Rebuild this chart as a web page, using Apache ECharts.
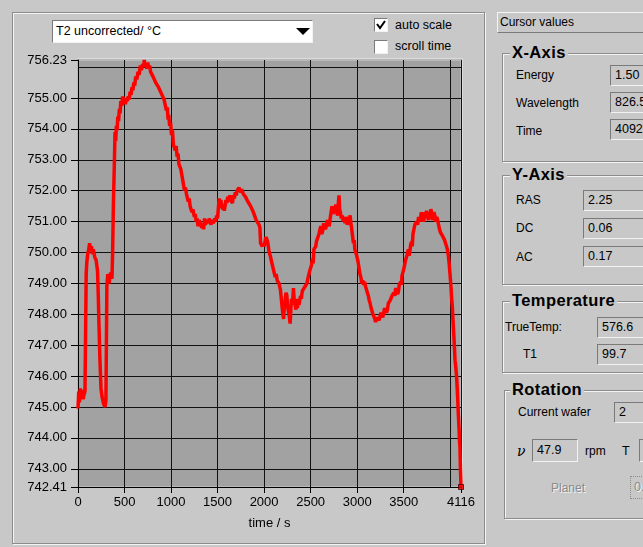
<!DOCTYPE html>
<html>
<head>
<meta charset="utf-8">
<script src="https://cdn.jsdelivr.net/npm/echarts@6/dist/echarts.min.js"></script>
<style>
  html, body { margin:0; padding:0; }
  body { width:643px; height:547px; overflow:hidden; background:#c8c8c8; position:relative;
         font-family:"Liberation Sans", Arial, sans-serif; color:#000; }
  .abs { position:absolute; }
  .groove { position:absolute; border:1px solid #8c8c8c; box-shadow: inset 1px 1px 0 #f4f4f4, 1px 1px 0 #f4f4f4; }
  .sunken { position:absolute; border-top:1px solid #7a7a7a; border-left:1px solid #7a7a7a;
            border-bottom:1px solid #f2f2f2; border-right:1px solid #f2f2f2; box-sizing:border-box;
            font-size:12.5px; line-height:19px; padding-left:4px; white-space:nowrap; overflow:hidden; }
  .lbl { position:absolute; font-size:12px; white-space:nowrap; transform:translateY(-50%); }
  .gtitle { position:absolute; font-size:16.5px; font-weight:bold; background:#c8c8c8; padding:0 2px;
            transform:translateY(-55%); letter-spacing:0.4px; white-space:nowrap; }
  #chart { position:absolute; left:0; top:0; width:643px; height:547px; z-index:2; }
</style>
</head>
<body>
<!-- left frame -->
<div class="groove" style="left:12px;top:12px;width:471px;height:530px;"></div>
<!-- plot underlay (extra border) -->
<div class="abs" style="left:77px;top:58px;width:385px;height:428px;background:#a2a2a2;border-top:1px solid #dcdcdc;border-right:1px solid #dcdcdc;"></div>

<!-- dropdown -->
<div class="sunken" style="left:52px;top:20px;width:261px;height:23px;background:#fff;font-size:12.5px;line-height:21px;padding-left:3px;">T2 uncorrected/ °C</div>
<div class="abs" style="left:296px;top:28px;width:0;height:0;border-left:7px solid transparent;border-right:7px solid transparent;border-top:7px solid #000;"></div>

<!-- checkboxes -->
<div class="sunken" style="left:374px;top:18px;width:14px;height:14px;background:#fff;padding:0;">
  <svg width="12" height="12" style="position:absolute;left:0;top:0"><polyline points="2,5 5,9 10,2" fill="none" stroke="#000" stroke-width="2"/></svg>
</div>
<div class="lbl" style="left:395px;top:25px;font-size:12.5px;">auto scale</div>
<div class="sunken" style="left:374px;top:40px;width:14px;height:14px;background:#fff;padding:0;"></div>
<div class="lbl" style="left:395px;top:46px;font-size:12.5px;">scroll time</div>

<!-- right panel -->
<div class="abs" style="left:497px;top:12px;width:200px;height:21px;box-sizing:border-box;border-top:1px solid #f4f4f4;border-left:1px solid #f4f4f4;border-bottom:1px solid #7a7a7a;border-right:1px solid #7a7a7a;font-size:12px;line-height:19px;padding-left:2px;">Cursor values</div>

<div class="groove" style="left:502px;top:53px;width:200px;height:107px;"></div>
<div class="gtitle" style="left:510px;top:53px;">X-Axis</div>
<div class="lbl" style="left:516px;top:75px;">Energy</div>
<div class="sunken" style="left:610px;top:65px;width:60px;height:21px;">1.50</div>
<div class="lbl" style="left:516px;top:103px;">Wavelength</div>
<div class="sunken" style="left:610px;top:92px;width:60px;height:21px;">826.5</div>
<div class="lbl" style="left:516px;top:131px;">Time</div>
<div class="sunken" style="left:610px;top:119px;width:60px;height:21px;">4092</div>

<div class="groove" style="left:502px;top:175px;width:200px;height:108px;"></div>
<div class="gtitle" style="left:510px;top:175px;">Y-Axis</div>
<div class="lbl" style="left:516px;top:200px;">RAS</div>
<div class="sunken" style="left:583px;top:190px;width:70px;height:21px;">2.25</div>
<div class="lbl" style="left:516px;top:228px;">DC</div>
<div class="sunken" style="left:583px;top:218px;width:70px;height:21px;">0.06</div>
<div class="lbl" style="left:516px;top:257px;">AC</div>
<div class="sunken" style="left:583px;top:246px;width:70px;height:21px;">0.17</div>

<div class="groove" style="left:502px;top:301px;width:200px;height:70px;"></div>
<div class="gtitle" style="left:510px;top:301px;">Temperature</div>
<div class="lbl" style="left:505px;top:327px;">TrueTemp:</div>
<div class="sunken" style="left:597px;top:317px;width:60px;height:21px;">576.6</div>
<div class="lbl" style="left:523px;top:354px;">T1</div>
<div class="sunken" style="left:597px;top:344px;width:60px;height:21px;">99.7</div>

<div class="groove" style="left:504px;top:390px;width:200px;height:127px;"></div>
<div class="gtitle" style="left:510px;top:390px;">Rotation</div>
<div class="lbl" style="left:518px;top:412px;">Current wafer</div>
<div class="sunken" style="left:614px;top:402px;width:60px;height:21px;">2</div>
<div class="lbl" style="left:517px;top:451px;font-family:'DejaVu Serif',serif;font-style:italic;font-size:14px;">ν</div>
<div class="sunken" style="left:532px;top:439px;width:46px;height:23px;line-height:21px;">47.9</div>
<div class="lbl" style="left:585px;top:451px;">rpm</div>
<div class="lbl" style="left:622px;top:451px;font-size:12.5px;">T</div>
<div class="sunken" style="left:639px;top:439px;width:40px;height:23px;"></div>
<div class="lbl" style="left:551px;top:488px;color:#8a8a8a;text-shadow:1px 1px 0 #f4f4f4;">Planet</div>
<div class="abs" style="left:630px;top:476px;width:40px;height:23px;box-sizing:border-box;border:1px dotted #8a8a8a;font-size:12.5px;line-height:21px;padding-left:3px;color:#8a8a8a;text-shadow:1px 1px 0 #f4f4f4;">0.0</div>

<div id="chart"></div>
<script>
// ---- data (time in s, T2 in °C) ----
const timeS = [
0,8,15,25,35,45,55,65,75,82,88,95,105,115,125,135,145,155,165,180,195,210,218,225,235,247,260,275,290,300,305,310,320,335,350,365,372,380,390,398,
405,412,420,428,436,445,452,460,470,480,490,500,510,520,530,540,550,560,570,580,590,600,610,620,632,645,657,670,682,695,705,712,722,730,740,750,760,770,780,790,
805,820,835,850,865,880,895,910,925,940,950,960,968,975,985,995,1005,1015,1025,1035,1045,1055,1065,1075,1085,1095,1105,1115,1125,1135,1145,1155,1165,1175,1185,1195,
1205,1215,1225,1235,1250,1260,1270,1280,1290,1300,1310,1320,1330,1340,1350,1360,1370,1380,1390,1400,1410,1420,1430,1440,1455,1470,1480,1490,1500,1510,1518,1525,1535,1545,1555,1565,1572,1580,1590,1600,
1610,1620,1630,1640,1650,1660,1670,1680,1690,1700,1710,1720,1730,1740,1750,1760,1775,1790,1800,1810,1825,1840,1855,1870,1885,1900,1915,1930,1945,1955,1962,1970,1980,1990,2000,2010,2020,2030,2038,2045,
2052,2060,2070,2080,2090,2100,2110,2120,2130,2140,2150,2160,2168,2175,2185,2195,2202,2210,2218,2225,2235,2245,2252,2260,2270,2280,2288,2295,2305,2315,2325,2335,2342,2350,2358,2365,2375,2385,2392,2400,
2410,2420,2430,2440,2450,2460,2470,2480,2490,2500,2510,2520,2528,2535,2545,2555,2562,2570,2580,2590,2600,2610,2620,2630,2640,2650,2660,2670,2680,2690,2700,2710,2720,2730,2740,2750,2760,2770,2780,2790,
2798,2805,2812,2820,2830,2840,2850,2860,2870,2878,2885,2895,2905,2915,2925,2932,2940,2950,2960,2968,2975,2985,2995,3005,3010,3020,3030,3040,3050,3060,3070,3080,3090,3100,3110,3120,3130,3140,3150,3160,
3170,3180,3190,3198,3205,3215,3225,3235,3245,3255,3265,3275,3285,3295,3305,3315,3325,3335,3345,3355,3365,3375,3385,3395,3405,3415,3425,3435,3445,3452,3460,3468,3475,3482,3490,3500,3510,3520,3530,3540,
3550,3558,3565,3575,3585,3592,3600,3610,3620,3630,3640,3650,3660,3670,3680,3690,3700,3710,3720,3730,3738,3745,3755,3765,3775,3785,3792,3800,3808,3815,3825,3835,3845,3855,3865,3875,3885,3895,3905,3915,
3925,3940,3950,3960,3970,3980,3990,3998,4008,4016,4024,4030,4036,4041,4046,4052,4060,4070,4080,4087,4095,4100,4105,4110,4116];
const t2 = [
744.95,745.5,745.15,745.6,745.3,745.55,745.25,745.4,745.5,747.5,749.3,749.7,749.95,750.1,750.3,750.05,750.2,749.95,750.1,749.85,749.75,749.4,748.6,747.7,746.6,745.6,745.3,745.1,745.0,745.2,747.0,748.9,749.3,749.0,749.35,749.15,750.0,751.5,752.8,753.9,
753.6,754.1,753.95,754.4,754.25,754.65,754.5,754.9,754.75,755.05,754.85,754.95,754.8,755.0,754.9,755.05,754.95,755.2,755.1,755.35,755.25,755.5,755.4,755.7,755.6,755.85,755.75,756.05,755.9,756.1,756.0,756.23,756.0,756.1,755.95,756.15,755.95,756.05,755.85,755.9,
755.7,755.75,755.5,755.55,755.35,755.4,755.15,755.2,754.95,754.9,754.6,754.7,754.3,754.45,754.1,754.2,753.8,753.95,753.5,753.4,753.3,753.45,753.1,753.2,752.85,752.9,752.7,752.75,752.35,752.4,752.0,752.1,751.9,751.95,751.65,751.75,
751.5,751.55,751.3,751.4,751.15,751.25,751.0,751.1,750.85,751.05,751.1,750.9,750.8,750.95,750.75,751.1,750.9,750.85,751.05,750.95,751.1,751.0,750.9,751.05,750.95,751.1,751.0,751.2,751.1,751.5,751.75,751.6,751.7,751.5,751.4,751.55,751.35,751.5,751.7,751.6,
751.8,751.65,751.85,751.7,751.75,751.6,751.85,751.75,751.95,751.85,752.0,751.95,752.1,752.15,751.95,752.05,751.9,751.95,751.8,751.85,751.65,751.7,751.5,751.55,751.3,751.35,751.05,751.0,750.9,750.8,750.3,750.35,750.2,750.3,750.2,750.35,750.5,750.55,750.35,750.3,
750.05,750.0,749.85,749.7,749.75,749.45,749.5,749.2,749.3,749.1,749.15,749.0,749.05,748.8,748.5,748.2,748.0,747.85,748.3,748.4,748.7,748.6,748.25,748.2,747.95,747.7,748.2,748.5,748.3,748.85,748.4,748.3,748.15,748.5,748.2,748.4,748.3,748.25,748.6,748.5,
748.75,748.8,748.7,748.9,748.85,749.0,749.15,749.2,749.4,749.45,749.6,749.8,749.65,750.1,750.05,750.2,750.35,750.4,750.35,750.6,750.75,750.85,750.6,750.7,750.95,750.9,750.75,750.8,751.05,751.0,750.85,751.1,751.3,751.5,751.25,751.3,751.4,751.55,751.3,751.2,
751.6,751.85,751.4,751.3,751.1,751.2,751.0,751.1,750.95,751.15,751.05,750.9,751.0,751.1,751.2,750.95,750.8,750.55,750.3,750.4,750.1,750.15,749.9,749.95,749.7,749.5,749.3,749.2,749.0,749.1,748.95,749.05,748.9,748.8,748.7,748.6,748.45,748.35,748.2,748.15,
748.0,747.95,747.85,747.75,747.7,747.9,747.95,747.8,747.85,748.05,748.0,747.9,748.05,748.2,748.2,748.05,748.15,748.35,748.3,748.45,748.4,748.6,748.55,748.7,748.6,748.85,748.8,748.65,748.75,748.95,748.9,749.05,748.95,749.25,749.2,749.45,749.6,749.75,749.8,749.95,
750.1,749.9,750.0,750.25,750.35,750.2,750.6,750.75,750.9,750.85,751.0,750.9,751.15,751.0,751.1,751.3,751.25,751.0,751.1,751.3,751.15,751.35,751.2,751.05,751.3,751.2,751.4,751.3,751.05,751.1,751.3,751.2,751.0,751.15,751.05,751.0,750.75,750.65,750.7,750.55,
750.6,750.4,750.45,750.2,750.1,749.9,749.6,749.3,748.9,748.5,748.2,747.8,747.5,747.2,746.9,746.5,746.3,745.9,745.3,744.8,744.3,743.9,743.7,743.0,742.41];
const yTicks = [742.41,743,744,745,746,747,748,749,750,751,752,753,754,755,756.23];
const xTicks = [0,500,1000,1500,2000,2500,3000,3500,4116];
const yMin = 742.41, yMax = 756.23, xMin = 0, xMax = 4116;

const seriesData = timeS.map((t, i) => [t, t2[i]]);
const lastPoint = seriesData[seriesData.length - 1];

const chart = echarts.init(document.getElementById('chart'), null, {renderer:'canvas'});
const font = '"Liberation Sans", Arial, sans-serif';
chart.setOption({
  animation: false,
  backgroundColor: 'transparent',
  grid: { left: 78, top: 60, width: 383, height: 427, show: true, backgroundColor: '#a2a2a2',
          borderColor: '#cfcfcf', borderWidth: 1, containLabel: false },
  xAxis: [
    { type:'value', min:xMin, max:xMax, interval:500, position:'bottom',
      axisLine:{show:false}, axisTick:{show:false}, axisLabel:{show:false},
      splitLine:{show:true, showMinLine:false, lineStyle:{color:'#111', width:1}} },
    { type:'value', min:xMin, max:xMax, position:'bottom', offset:0,
      name:'time / s', nameLocation:'middle', nameGap:30,
      nameTextStyle:{color:'#000', fontSize:13, fontFamily:font},
      axisLine:{show:true, onZero:false, lineStyle:{color:'#000', width:1}},
      axisTick:{show:true, customValues:xTicks, length:6, lineStyle:{color:'#000'}},
      axisLabel:{show:true, customValues:xTicks, color:'#000', fontSize:13, fontFamily:font, margin:9,
                 formatter: v => String(Math.round(v))},
      splitLine:{show:false} }
  ],
  yAxis: [
    { type:'value', min:yMin, max:yMax, splitNumber:14, position:'left',
      axisLine:{show:false}, axisTick:{show:false}, axisLabel:{show:false},
      splitLine:{show:true, showMinLine:false, showMaxLine:false, lineStyle:{color:'#111', width:1}} },
    { type:'value', min:yMin, max:yMax, position:'left', offset:0,
      axisLine:{show:true, onZero:false, lineStyle:{color:'#000', width:1}},
      axisTick:{show:true, customValues:yTicks, length:7, lineStyle:{color:'#000'}},
      axisLabel:{show:true, customValues:yTicks, color:'#000', fontSize:13, fontFamily:font, margin:11,
                 formatter: v => Number(v).toFixed(2)},
      splitLine:{show:false} }
  ],
  series: [
    { type:'line', xAxisIndex:0, yAxisIndex:0, data:seriesData, showSymbol:false, silent:true,
      lineStyle:{color:'#ff0000', width:3.5}, z:5 },
    { type:'scatter', xAxisIndex:0, yAxisIndex:0, data:[lastPoint], symbol:'rect', symbolSize:5,
      itemStyle:{color:'#ff0000', borderColor:'#400', borderWidth:1}, silent:true, z:6 }
  ]
});
</script>
</body>
</html>
